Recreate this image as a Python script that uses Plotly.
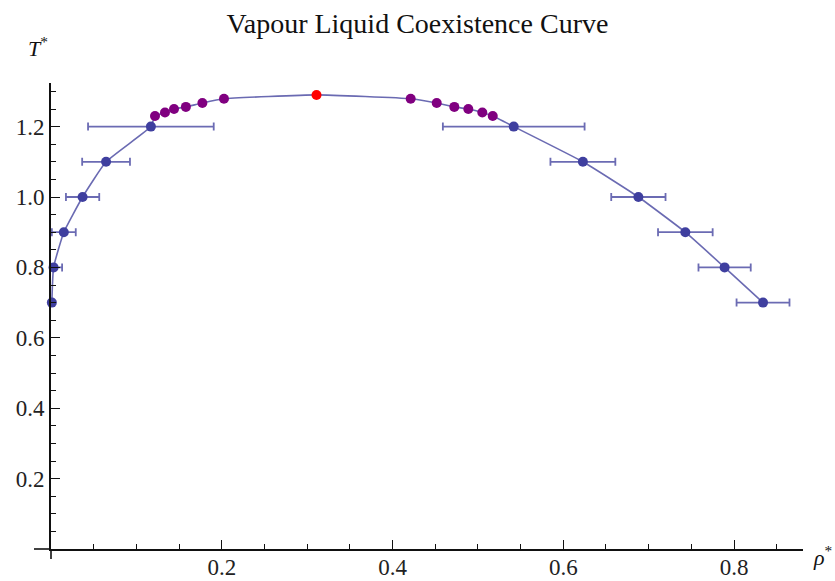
import plotly.graph_objects as go

# ---- data ----
# simulated coexistence points with error bars (T* = 0.7 ... 1.2)
T_sim = [0.7, 0.8, 0.9, 1.0, 1.1, 1.2]
rho_vap = [0.001, 0.003, 0.015, 0.037, 0.0645, 0.117]
err_vap = [0.002, 0.010, 0.014, 0.0195, 0.028, 0.0736]
rho_liq = [0.834, 0.789, 0.743, 0.688, 0.623, 0.542]
err_liq = [0.031, 0.0306, 0.032, 0.0318, 0.038, 0.083]

# near-critical points
T_near = [1.230, 1.240, 1.250, 1.256, 1.267, 1.279]
rho_near_vap = [0.1218, 0.1335, 0.1441, 0.158, 0.1773, 0.2026]
rho_near_liq = [0.5174, 0.5052, 0.4888, 0.4724, 0.4518, 0.4213]

# critical point
T_crit = [1.29]
rho_crit = [0.311]

x_ticks = [0.2, 0.4, 0.6, 0.8]
y_ticks = [0.2, 0.4, 0.6, 0.8, 1.0, 1.2]

# ---- curve through all points, vapour branch up, liquid branch down ----
curve_x = rho_vap + rho_near_vap + rho_crit + rho_near_liq[::-1] + rho_liq[::-1]
curve_y = T_sim + T_near + T_crit + T_near[::-1] + T_sim[::-1]

line_col = "rgba(80,80,165,0.85)"
blue = "#3f3f9f"
purple = "#800080"
red = "#ff0000"

fig = go.Figure()
fig.add_trace(go.Scatter(x=curve_x, y=curve_y, mode="lines",
                         line=dict(color=line_col, width=1.6, shape="spline", smoothing=0.4),
                         hoverinfo="skip", cliponaxis=False))
for xs, es in ((rho_vap, err_vap), (rho_liq, err_liq)):
    fig.add_trace(go.Scatter(x=xs, y=T_sim, mode="markers",
                             marker=dict(color=blue, size=10),
                             error_x=dict(type="data", array=es, visible=True,
                                          color="rgba(70,70,160,0.8)", thickness=1.8, width=4),
                             cliponaxis=False))
for xs in (rho_near_vap, rho_near_liq):
    fig.add_trace(go.Scatter(x=xs, y=T_near, mode="markers",
                             marker=dict(color=purple, size=10), cliponaxis=False))
fig.add_trace(go.Scatter(x=rho_crit, y=T_crit, mode="markers",
                         marker=dict(color=red, size=10), cliponaxis=False))

minor_x = [round(0.05 * i, 2) for i in range(1, 18) if i % 4 != 0]
minor_y = [round(0.05 * i, 2) for i in range(1, 27) if i % 4 != 0]

tickfont = dict(family="Liberation Serif", size=23, color="#222")

fig.update_layout(
    width=835, height=581,
    margin=dict(l=51, r=32, t=83, b=32),
    paper_bgcolor="white", plot_bgcolor="white",
    showlegend=False,
    title=dict(text="Vapour Liquid Coexistence Curve", x=0.5, xanchor="center",
               y=1 - 23 / 581, yanchor="middle", yref="container", automargin=False,
               font=dict(family="Liberation Serif", size=28, color="#111")),
    xaxis=dict(range=[0, 752 / 853.75], showgrid=False, zeroline=False, automargin=False,
               showline=True, linecolor="#111", linewidth=1.6,
               tickmode="array", tickvals=x_ticks, ticktext=[f"{v:.1f}" for v in x_ticks],
               ticks="inside", ticklen=9, tickwidth=1.4, tickcolor="#111",
               ticklabelstandoff=-3,
               minor=dict(tickvals=minor_x, ticks="inside", ticklen=5, tickwidth=1.3, tickcolor="#111"),
               tickfont=tickfont),
    yaxis=dict(range=[0, 466 / 352], showgrid=False, zeroline=False, automargin=False,
               showline=True, linecolor="#111", linewidth=1.6,
               tickmode="array", tickvals=y_ticks, ticktext=[f"{v:.1f}" for v in y_ticks],
               ticks="inside", ticklen=9, tickwidth=1.4, tickcolor="#111",
               minor=dict(tickvals=minor_y, ticks="inside", ticklen=5, tickwidth=1.3, tickcolor="#111"),
               tickfont=tickfont),
    shapes=[
        dict(type="line", xref="paper", yref="paper", x0=-17 / 752, x1=0, y0=0, y1=0,
             line=dict(color="#111", width=1.6)),
        dict(type="line", xref="paper", yref="paper", x0=0, x1=0, y0=-10 / 466, y1=0,
             line=dict(color="#111", width=1.6)),
    ],
    annotations=[
        dict(text="<i>T</i><sup>*</sup>", xref="paper", yref="paper",
             x=-1 / 752, y=1 + 36 / 466, xanchor="right", yanchor="middle", showarrow=False,
             font=dict(family="Liberation Serif", size=22, color="#111")),
        dict(text="<i>ρ</i><sup>*</sup>", xref="paper", yref="paper",
             x=1 + 31 / 752, y=-7 / 466, xanchor="right", yanchor="middle", showarrow=False,
             font=dict(family="Liberation Serif", size=22, color="#111")),
    ],
)

fig.write_html("out.html")
